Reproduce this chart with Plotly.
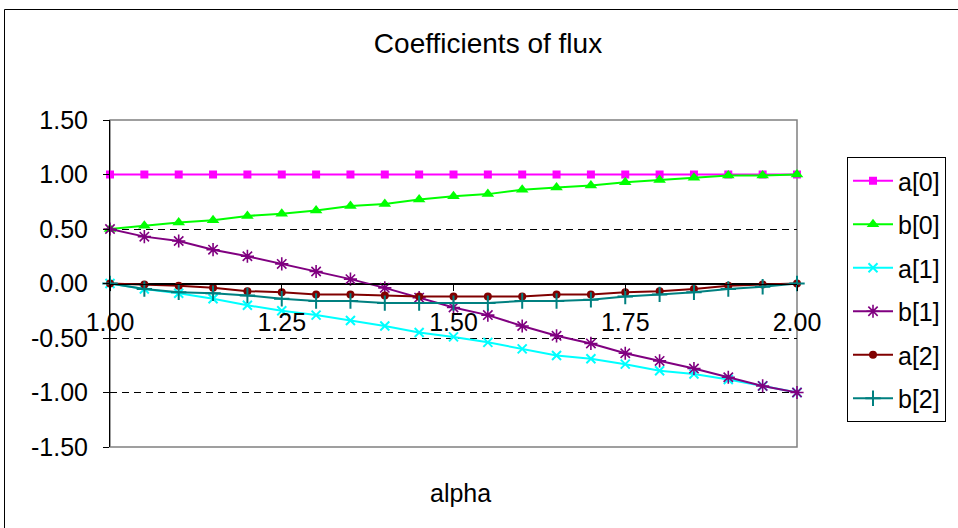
import plotly.graph_objects as go

alpha = [1.00, 1.05, 1.10, 1.15, 1.20, 1.25, 1.30, 1.35, 1.40, 1.45, 1.50,
         1.55, 1.60, 1.65, 1.70, 1.75, 1.80, 1.85, 1.90, 1.95, 2.00]

a0 = [1.0] * 21
b0 = [0.50, 0.53, 0.56, 0.58, 0.62, 0.64, 0.67, 0.71, 0.73, 0.77, 0.80,
      0.82, 0.86, 0.88, 0.90, 0.93, 0.95, 0.97, 0.99, 0.99, 1.00]
a1 = [0.00, -0.05, -0.09, -0.14, -0.20, -0.25, -0.29, -0.34, -0.39, -0.45, -0.49,
      -0.54, -0.60, -0.66, -0.69, -0.74, -0.80, -0.83, -0.88, -0.94, -1.00]
b1 = [0.50, 0.43, 0.39, 0.31, 0.25, 0.18, 0.11, 0.04, -0.04, -0.13, -0.22,
      -0.29, -0.39, -0.48, -0.55, -0.64, -0.71, -0.78, -0.86, -0.94, -1.00]
a2 = [0.00, -0.01, -0.02, -0.04, -0.07, -0.08, -0.10, -0.10, -0.11, -0.12, -0.12,
      -0.12, -0.12, -0.10, -0.10, -0.08, -0.07, -0.05, -0.02, -0.01, 0.00]
b2 = [0.00, -0.05, -0.08, -0.09, -0.11, -0.14, -0.16, -0.16, -0.18, -0.18, -0.18,
      -0.18, -0.16, -0.16, -0.15, -0.12, -0.10, -0.08, -0.05, -0.03, 0.00]

y_ticks = [-1.5, -1.0, -0.5, 0.0, 0.5, 1.0, 1.5]
y_tick_labels = ["-1.50", "-1.00", "-0.50", "0.00", "0.50", "1.00", "1.50"]
x_ticks = [1.00, 1.25, 1.50, 1.75, 2.00]
x_tick_labels = ["1.00", "1.25", "1.50", "1.75", "2.00"]

series = [
    ("a[0]", a0, "#FF00FF", "square", 8, 0),
    ("b[0]", b0, "#00FF00", "triangle-up", 11, 0),
    ("a[1]", a1, "#00FFFF", "x-thin-open", 9, 2),
    ("b[1]", b1, "#800080", "asterisk-open", 11, 1.6),
    ("a[2]", a2, "#800000", "circle", 8, 0),
    ("b[2]", b2, "#008080", "cross-thin-open", 11, 2),
]

FONT = "Liberation Sans, Arial, sans-serif"
W, H = 958, 528
L, R, T, B = 110, 797, 120, 447
pw, ph = R - L, B - T

def px(x):
    return (x - L) / pw

def py(y):
    return (B - y) / ph

fig = go.Figure()
for i, (name, vals, col, sym, sz, lw) in enumerate(series):
    fig.add_trace(go.Scatter(
        x=alpha, y=vals, name=name, mode="lines+markers",
        line=dict(color=col, width=2),
        marker=dict(symbol=sym, size=sz, color=col,
                    line=dict(color=col, width=lw)),
        cliponaxis=False, legendgroup=f"g{i}",
    ))

fig.update_layout(
    width=W, height=H,
    margin=dict(l=L, r=W - R, t=T, b=H - B),
    paper_bgcolor="white", plot_bgcolor="white",
    font=dict(family=FONT, size=25, color="black"),
    showlegend=True,
    title=dict(text="Coefficients of flux", x=488 / W, y=1 - 43 / H,
               xanchor="center", yanchor="middle", xref="container", yref="container",
               font=dict(family=FONT, size=28, color="black")),
    legend=dict(x=px(847), y=py(157), xanchor="left", yanchor="top",
                bordercolor="black", borderwidth=1, bgcolor="white",
                font=dict(family=FONT, size=25, color="black"),
                tracegroupgap=8, itemwidth=40),
    xaxis=dict(range=[1.0, 2.0], tickvals=x_ticks, ticktext=x_tick_labels,
               anchor="free", position=0.5, showline=True, linecolor="black",
               linewidth=1, ticks="outside", ticklen=6, tickcolor="black",
               showgrid=False, zeroline=False, ticklabelstandoff=10,
               tickfont=dict(family=FONT, size=25, color="black")),
    yaxis=dict(range=[-1.5, 1.5], tickvals=y_ticks, ticktext=y_tick_labels,
               showline=True, linecolor="black", linewidth=1,
               ticks="outside", ticklen=6, tickcolor="black",
               showgrid=True, gridcolor="black", griddash="7px,5px", gridwidth=1,
               zeroline=True, zerolinecolor="black", zerolinewidth=1,
               ticklabelstandoff=10,
               tickfont=dict(family=FONT, size=25, color="black")),
    annotations=[dict(text="alpha", x=px(460), y=py(493), xref="paper", yref="paper",
                      xanchor="center", yanchor="middle", showarrow=False,
                      font=dict(family=FONT, size=25, color="black"))],
    shapes=[
        dict(type="rect", xref="paper", yref="paper", x0=0, x1=1, y0=0, y1=1,
             line=dict(color="#808080", width=1.5), layer="between"),
        dict(type="rect", xref="paper", yref="paper", x0=px(4.5), x1=px(970),
             y0=py(540), y1=py(9.5), line=dict(color="black", width=1), layer="below"),
    ],
)

fig.write_html("out.html")
